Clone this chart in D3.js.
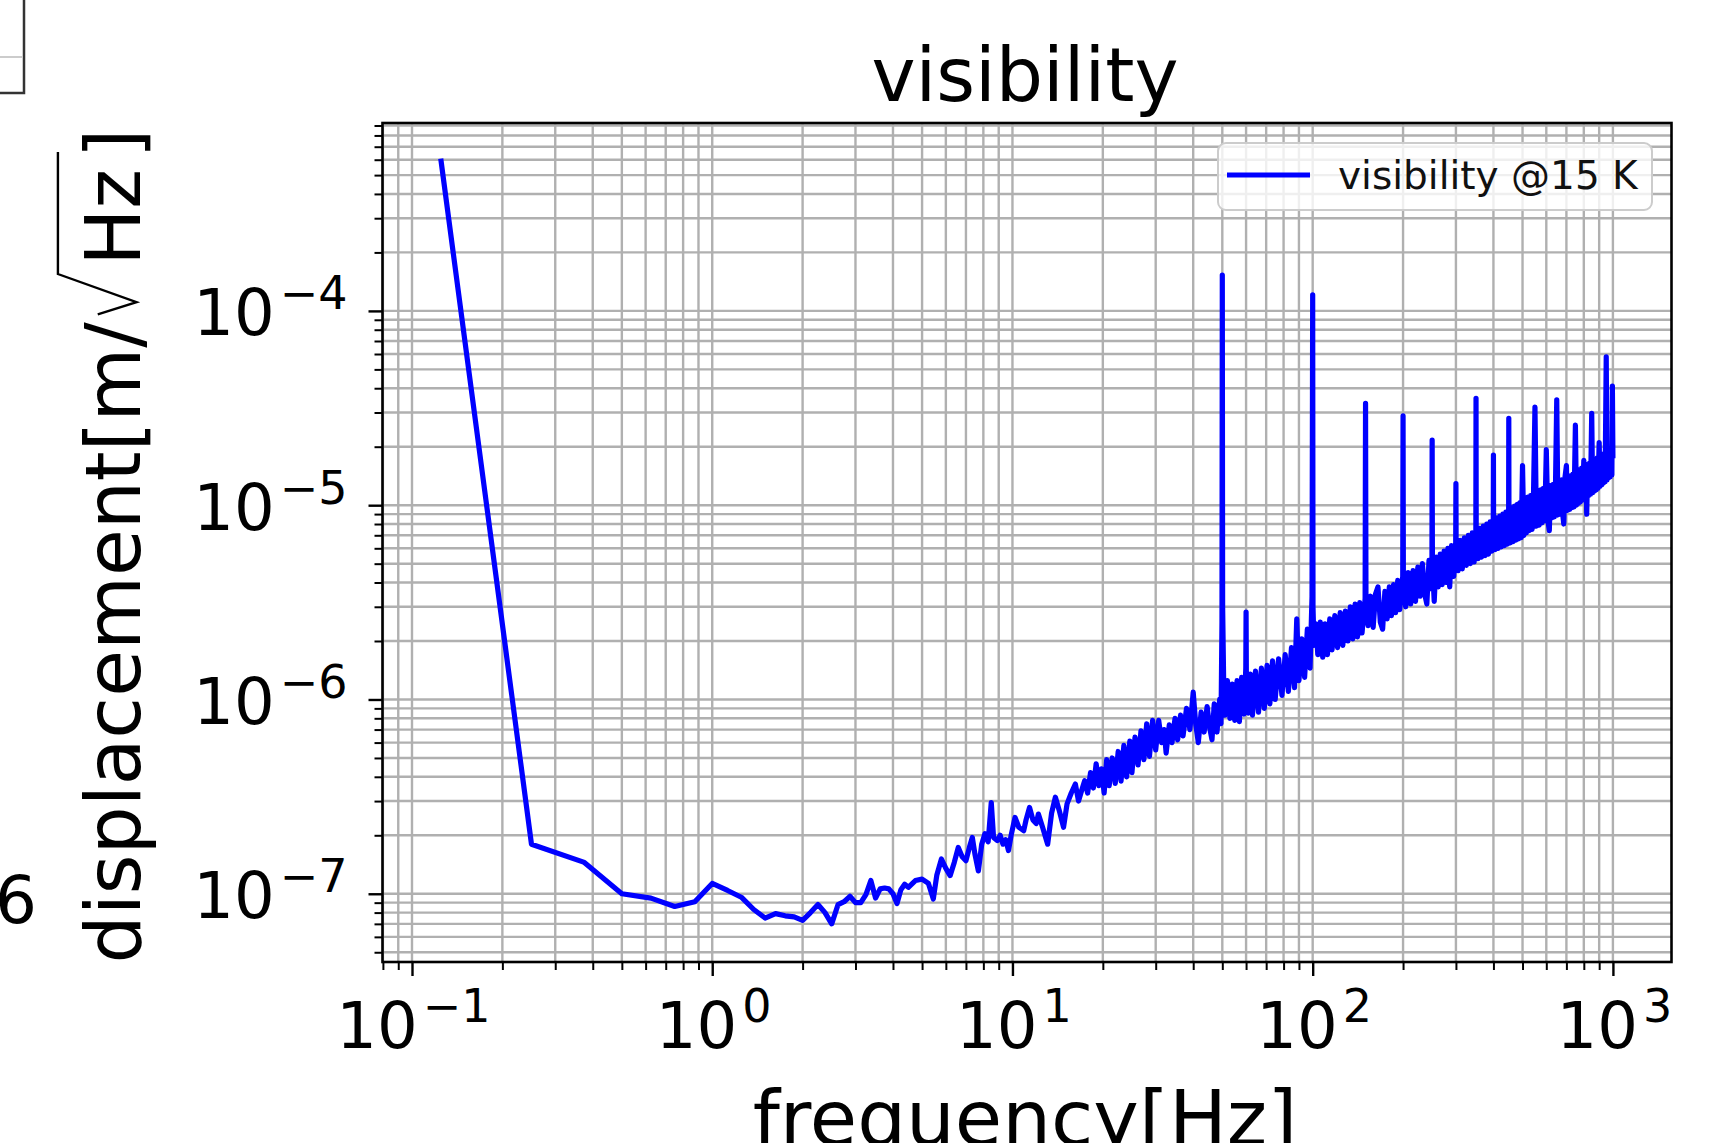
<!DOCTYPE html>
<html>
<head>
<meta charset="utf-8">
<script src="https://cdn.jsdelivr.net/npm/d3@7"></script>
<style>
body { margin: 0; background: #fff; }
text { font-family: "DejaVu Sans", sans-serif; }
</style>
</head>
<body>
<div id="chart"></div>
<script>

// Trace (frequency in Hz, displacement in m/sqrt(Hz))
// low end, 0.125 Hz steps
var lowFreq = [0.125, 0.25, 0.375, 0.5, 0.625, 0.75, 0.875, 1.0, 1.125, 1.25,
	1.375, 1.5, 1.625, 1.75, 1.875, 2.0, 2.125, 2.25, 2.375, 2.5,
	2.625, 2.75, 2.875, 3.0, 3.125, 3.25, 3.375, 3.5, 3.625, 3.75];
var lowDisp = [5.9e-4, 1.80e-7, 1.45e-7, 1.00e-7, 9.5e-8, 8.6e-8, 9.1e-8, 1.13e-7, 1.04e-7, 9.6e-8,
	8.3e-8, 7.5e-8, 7.9e-8, 7.7e-8, 7.6e-8, 7.3e-8, 8.0e-8, 8.8e-8, 8.0e-8, 7.0e-8,
	8.8e-8, 9.1e-8, 9.7e-8, 9.0e-8, 9.0e-8, 9.9e-8, 1.17e-7, 9.5e-8, 1.06e-7, 1.07e-7];

// 4 - 50 Hz
var midFreq = [3.875, 4.0, 4.125, 4.25, 4.375, 4.5, 4.75, 5.0, 5.25, 5.45,
	5.6, 5.8, 6.0, 6.2, 6.4, 6.6, 6.8, 7.0, 7.2, 7.35,
	7.5, 7.7, 7.9, 8.1, 8.3, 8.5, 8.65, 8.9, 9.1, 9.3,
	9.5, 9.7, 9.9, 10.2, 10.5, 10.9, 11.1, 11.4, 11.7, 12.0,
	12.2, 12.6, 13.1, 13.5, 13.9, 14.3, 14.8, 15.2, 15.7, 16.2,
	16.6, 17.0, 17.4, 17.8, 18.2, 18.6, 19.0, 19.4, 19.8, 20.2,
	20.6, 21.0, 21.5, 22.0, 22.5, 23.0, 23.5, 24.0, 24.6, 25.0,
	25.6, 26.2, 26.8, 27.4, 28.0, 28.6, 29.3, 30.0, 30.7, 31.4,
	32.0, 32.5, 33.3, 34.0, 34.8, 35.5, 36.3, 37.0, 38.0, 39.0,
	40.0, 40.8, 41.6, 42.5, 43.5, 44.5, 45.5, 46.2, 47.0, 48.0,
	49.0, 49.5];
var midDisp = [1.06e-7, 1.00e-7, 8.9e-8, 1.05e-7, 1.12e-7, 1.08e-7, 1.17e-7, 1.19e-7, 1.13e-7, 9.4e-8,
	1.25e-7, 1.51e-7, 1.35e-7, 1.24e-7, 1.45e-7, 1.73e-7, 1.55e-7, 1.48e-7, 1.75e-7, 1.95e-7,
	1.60e-7, 1.31e-7, 1.80e-7, 2.04e-7, 1.85e-7, 2.95e-7, 1.95e-7, 1.88e-7, 2.00e-7, 1.80e-7,
	1.90e-7, 1.67e-7, 2.00e-7, 2.47e-7, 2.20e-7, 2.11e-7, 2.40e-7, 2.78e-7, 2.40e-7, 2.30e-7,
	2.57e-7, 2.20e-7, 1.80e-7, 2.60e-7, 3.14e-7, 2.70e-7, 2.20e-7, 2.90e-7, 3.30e-7, 3.67e-7,
	3.00e-7, 3.40e-7, 3.82e-7, 3.30e-7, 4.20e-7, 3.50e-7, 4.66e-7, 3.60e-7, 4.40e-7, 3.30e-7,
	4.90e-7, 3.60e-7, 5.00e-7, 3.70e-7, 5.40e-7, 3.80e-7, 5.80e-7, 4.00e-7, 6.10e-7, 4.20e-7,
	6.40e-7, 4.60e-7, 6.90e-7, 4.90e-7, 7.50e-7, 5.10e-7, 7.80e-7, 5.50e-7, 7.80e-7, 6.00e-7,
	7.00e-7, 5.30e-7, 7.40e-7, 6.00e-7, 8.00e-7, 6.20e-7, 8.30e-7, 6.50e-7, 9.00e-7, 7.00e-7,
	1.09e-6, 7.40e-7, 6.00e-7, 8.60e-7, 6.80e-7, 9.20e-7, 7.00e-7, 6.20e-7, 9.50e-7, 6.80e-7,
	1.00e-6, 7.50e-7];

// 50 - 100 Hz, first mains lines
var humFreq = [49.875, 50.0, 50.125, 50.5, 51, 52, 53, 54, 55, 56,
	57, 58, 59, 59.875, 60, 60.125, 61, 62, 63, 64.5,
	66, 67.5, 69, 70.5, 72, 73.5, 75, 77, 79, 81,
	83, 85, 87, 88.5, 90, 92, 94, 96, 98, 99.5,
	100];
var humDisp = [2.5e-6, 1.53e-4, 3.0e-6, 1.3e-6, 8.3e-7, 1.25e-6, 8.0e-7, 1.2e-6, 7.8e-7, 1.25e-6,
	7.7e-7, 1.3e-6, 8.4e-7, 1.45e-6, 2.82e-6, 1.35e-6, 8.5e-7, 1.35e-6, 8.3e-7, 1.4e-6,
	8.6e-7, 1.45e-6, 9.0e-7, 1.5e-6, 9.5e-7, 1.58e-6, 1.0e-6, 1.62e-6, 1.05e-6, 1.7e-6,
	1.1e-6, 1.85e-6, 1.15e-6, 2.6e-6, 1.25e-6, 2.05e-6, 1.3e-6, 2.3e-6, 1.45e-6, 3.4e-6,
	1.21e-4];

// 100 - 500 Hz, harmonics every 50 Hz
var harmFreq = [100.25, 101, 102.5, 104, 106, 108, 110, 112, 114, 116,
	118.5, 121, 123.5, 126, 128.5, 131, 133.5, 136, 138.5, 141,
	143.5, 146, 149.5, 150, 150.5, 153, 156, 159, 162, 165,
	168, 171, 174, 177, 180, 183, 186, 189, 192, 195,
	199.5, 200, 200.5, 204, 208, 212, 216, 220, 224, 228,
	232, 236, 240, 244, 249.5, 250, 250.5, 254, 258, 262,
	266, 270, 274, 278, 282, 286, 290, 295, 299.5, 300,
	300.5, 305, 310, 315, 320, 325, 330, 335, 340, 345,
	349.5, 350, 350.5, 355, 360, 365, 370, 375, 380, 385,
	390, 395, 399.5, 400, 400.5, 405, 410, 415, 420, 425,
	430, 435, 440, 445, 449.5, 450, 450.5, 455, 460, 465,
	470, 475, 480, 485, 490, 495];
var harmDisp = [3.0e-6, 1.9e-6, 2.45e-6, 1.7e-6, 2.5e-6, 1.65e-6, 2.45e-6, 1.7e-6, 2.6e-6, 1.8e-6,
	2.7e-6, 1.85e-6, 2.8e-6, 1.9e-6, 2.85e-6, 2.0e-6, 3.0e-6, 2.05e-6, 3.1e-6, 2.1e-6,
	3.15e-6, 2.2e-6, 3.3e-6, 3.34e-5, 3.0e-6, 2.4e-6, 3.4e-6, 2.35e-6, 3.5e-6, 3.8e-6,
	2.5e-6, 2.3e-6, 3.6e-6, 2.6e-6, 3.8e-6, 2.7e-6, 3.9e-6, 2.8e-6, 4.1e-6, 2.9e-6,
	4.3e-6, 2.88e-5, 4.0e-6, 3.0e-6, 4.5e-6, 3.1e-6, 4.6e-6, 3.2e-6, 4.8e-6, 3.4e-6,
	5.0e-6, 3.5e-6, 3.1e-6, 5.2e-6, 3.7e-6, 2.16e-5, 5.0e-6, 3.2e-6, 5.4e-6, 3.8e-6,
	5.6e-6, 3.9e-6, 5.8e-6, 4.0e-6, 6.0e-6, 3.8e-6, 6.2e-6, 4.3e-6, 6.4e-6, 1.29e-5,
	6.0e-6, 4.6e-6, 6.6e-6, 4.7e-6, 6.8e-6, 4.9e-6, 7.0e-6, 5.0e-6, 7.2e-6, 5.1e-6,
	7.4e-6, 3.55e-5, 7.0e-6, 5.3e-6, 7.6e-6, 5.4e-6, 7.8e-6, 5.5e-6, 8.0e-6, 5.6e-6,
	8.2e-6, 5.8e-6, 8.4e-6, 1.81e-5, 7.8e-6, 5.9e-6, 8.6e-6, 6.0e-6, 8.8e-6, 6.1e-6,
	9.0e-6, 6.2e-6, 9.2e-6, 6.3e-6, 9.4e-6, 2.8e-5, 9.0e-6, 6.4e-6, 9.7e-6, 6.5e-6,
	9.9e-6, 6.6e-6, 1.01e-5, 6.7e-6, 1.03e-5, 6.8e-6];

// 500 - 1000 Hz
var topFreq = [500, 505, 510, 515, 520, 526, 532, 538, 544, 550,
	556, 562, 568, 574, 580, 586, 593, 600, 607, 614,
	620, 626, 632, 638, 644, 650, 656, 662, 668, 674,
	680, 686, 692, 700, 706, 712, 718, 724, 730, 736,
	742, 750, 756, 762, 768, 774, 780, 786, 792, 800,
	806, 812, 818, 824, 830, 836, 842, 850, 856, 862,
	868, 874, 880, 886, 892, 900, 906, 912, 918, 924,
	930, 936, 942, 950, 956, 962, 968, 974, 980, 986,
	992, 996, 1000];
var topDisp = [1.6e-5, 7.0e-6, 1.07e-5, 7.2e-6, 1.1e-5, 7.4e-6, 1.12e-5, 7.5e-6, 1.15e-5, 3.2e-5,
	7.8e-6, 1.18e-5, 7.9e-6, 1.2e-5, 8.1e-6, 1.22e-5, 8.3e-6, 1.93e-5, 8.4e-6, 7.4e-6,
	1.26e-5, 8.6e-6, 1.28e-5, 8.7e-6, 1.3e-5, 3.48e-5, 8.9e-6, 1.33e-5, 9.0e-6, 1.35e-5,
	9.1e-6, 8.0e-6, 1.38e-5, 1.6e-5, 9.4e-6, 1.4e-5, 9.5e-6, 1.42e-5, 9.7e-6, 1.45e-5,
	9.8e-6, 2.58e-5, 1.0e-5, 1.5e-5, 1.02e-5, 1.52e-5, 1.04e-5, 1.55e-5, 1.06e-5, 1.7e-5,
	1.08e-5, 1.6e-5, 9.0e-6, 1.62e-5, 1.12e-5, 1.65e-5, 1.14e-5, 2.97e-5, 1.16e-5, 1.7e-5,
	1.18e-5, 1.72e-5, 1.2e-5, 1.75e-5, 1.22e-5, 2.1e-5, 1.25e-5, 1.8e-5, 1.27e-5, 1.82e-5,
	1.3e-5, 1.85e-5, 1.32e-5, 5.8e-5, 1.35e-5, 1.9e-5, 1.38e-5, 1.92e-5, 1.4e-5, 1.95e-5,
	1.43e-5, 4.1e-5, 1.8e-5];

// decade labels (10^k)
var xDecades = [-1, 0, 1, 2, 3];
var yDecades = [-7, -6, -5, -4];

var titleText = "visibility";
var xLabelText = "frequency[Hz]";
var legendText = "visibility @15 K";

// Outer Dimensions
var outerWidth = 1730;
var outerHeight = 1143;

// plot box
var plotLeft = 382.5;
var plotRight = 1671.5;
var plotTop = 123;
var plotBottom = 962;

var lineColor = "#0000ff";
var gridColor = "#b0b0b0";
var tickFont = 64;
var supFont = 46;
var supRise = 26;
var supGap = 5;
var labelFont = 76;

var freq = lowFreq.concat(midFreq, humFreq, harmFreq, topFreq);
var disp = lowDisp.concat(midDisp, humDisp, harmDisp, topDisp);
var trace = freq.map(function(f, i) { return {f: f, v: disp[i]}; });

// matplotlib style 5% margin, in log space
function logPad(ext) {
	var a = Math.log10(ext[0]), b = Math.log10(ext[1]);
	var m = (b - a) * 0.05;
	return [Math.pow(10, a - m), Math.pow(10, b + m)];
}

var svg = d3.select("#chart").append("svg")
	.attr("width", outerWidth)
	.attr("height", outerHeight)
	.style("display", "block");

var xScale = d3.scaleLog().domain(logPad(d3.extent(freq))).range([plotLeft, plotRight]);
var yScale = d3.scaleLog().domain(logPad(d3.extent(disp))).range([plotBottom, plotTop]);

function isMajor(t) {
	var l = Math.log10(t);
	return Math.abs(l - Math.round(l)) < 1e-9;
}
var xAll = xScale.ticks();
var yAll = yScale.ticks();
var xMajor = xDecades.map(function(k) { return Math.pow(10, k); });
var yMajor = yDecades.map(function(k) { return Math.pow(10, k); });
var xMinor = xAll.filter(function(t) { return !isMajor(t); });
var yMinor = yAll.filter(function(t) { return !isMajor(t); });

// grid, both major and minor
var grid = svg.append("g");
grid.selectAll(".gx").data(xAll).enter().append("line")
	.attr("x1", function(d) { return xScale(d); })
	.attr("x2", function(d) { return xScale(d); })
	.attr("y1", plotTop).attr("y2", plotBottom)
	.attr("stroke", gridColor).attr("stroke-width", 2.4);
grid.selectAll(".gy").data(yAll).enter().append("line")
	.attr("y1", function(d) { return yScale(d); })
	.attr("y2", function(d) { return yScale(d); })
	.attr("x1", plotLeft).attr("x2", plotRight)
	.attr("stroke", gridColor).attr("stroke-width", 2.4);

// the trace
var line = d3.line()
	.x(function(d) { return xScale(d.f); })
	.y(function(d) { return yScale(d.v); });
svg.append("path")
	.datum(trace)
	.attr("d", line)
	.attr("fill", "none")
	.attr("stroke", lineColor)
	.attr("stroke-width", 5.2)
	.attr("stroke-linejoin", "round")
	.attr("stroke-linecap", "square");

// spines
svg.append("rect")
	.attr("x", plotLeft).attr("y", plotTop)
	.attr("width", plotRight - plotLeft).attr("height", plotBottom - plotTop)
	.attr("fill", "none").attr("stroke", "#000").attr("stroke-width", 2.6);

// axes
function styleAxis(g, w) {
	g.select(".domain").remove();
	g.selectAll(".tick line").attr("stroke", "#000").attr("stroke-width", w);
}
function powerLabel(sel, k, anchor) {
	var t = sel.append("text")
		.attr("text-anchor", anchor)
		.attr("font-size", tickFont)
		.attr("fill", "#000");
	t.append("tspan").text("10");
	t.append("tspan").attr("font-size", supFont).attr("dy", -supRise).attr("dx", supGap)
		.text(k < 0 ? "\u2212" + (-k) : String(k));
	return t;
}

var xAxisMinorG = svg.append("g").attr("transform", "translate(0," + plotBottom + ")")
	.call(d3.axisBottom(xScale).tickValues(xMinor).tickSize(8).tickFormat(""));
styleAxis(xAxisMinorG, 2);
var xAxisG = svg.append("g").attr("transform", "translate(0," + plotBottom + ")")
	.call(d3.axisBottom(xScale).tickValues(xMajor).tickSize(14).tickFormat(""));
styleAxis(xAxisG, 2.4);
xAxisG.selectAll(".tick").each(function(d, i) {
	powerLabel(d3.select(this), xDecades[i], "middle").attr("x", 1).attr("y", 86);
});

var yAxisMinorG = svg.append("g").attr("transform", "translate(" + plotLeft + ",0)")
	.call(d3.axisLeft(yScale).tickValues(yMinor).tickSize(8).tickFormat(""));
styleAxis(yAxisMinorG, 2);
var yAxisG = svg.append("g").attr("transform", "translate(" + plotLeft + ",0)")
	.call(d3.axisLeft(yScale).tickValues(yMajor).tickSize(14).tickFormat(""));
styleAxis(yAxisG, 2.4);
yAxisG.selectAll(".tick").each(function(d, i) {
	powerLabel(d3.select(this), yDecades[i], "end").attr("x", -35).attr("y", 24);
});

// title and x label
svg.append("text")
	.attr("x", 1025).attr("y", 101)
	.attr("text-anchor", "middle")
	.attr("font-size", 74.5)
	.text(titleText);
svg.append("text")
	.attr("x", 1025).attr("y", 1145)
	.attr("text-anchor", "middle")
	.attr("font-size", 77)
	.text(xLabelText);

// y label with a hand drawn radical over Hz
var yLab = svg.append("g").attr("transform", "translate(140,546) rotate(-90)");
var ylA = yLab.append("text").attr("font-size", labelFont).text("displacement[m/");
var ylB = yLab.append("text").attr("font-size", labelFont).text("Hz");
var ylC = yLab.append("text").attr("font-size", labelFont).text("]");
var F = labelFont;
var wA = ylA.node().getComputedTextLength();
var wB = ylB.node().getComputedTextLength();
var wC = ylC.node().getComputedTextLength();
var radW = 0.74 * F;
var total = wA + radW + wB + 0.14 * F + wC;
var x0 = -total / 2;
var rx = x0 + wA + 0.1 * F;
var hzEnd = x0 + wA + radW + wB;
ylA.attr("x", x0);
ylB.attr("x", x0 + wA + radW);
ylC.attr("x", hzEnd + 0.14 * F);
yLab.append("path")
	.attr("d", "M" + rx + "," + (-0.556 * F) +
		"L" + (rx + 0.161 * F) + "," + (-0.046 * F) +
		"L" + (rx + 0.532 * F) + "," + (-1.08 * F) +
		"L" + (hzEnd + 0.22 * F) + "," + (-1.08 * F))
	.attr("fill", "none")
	.attr("stroke", "#000")
	.attr("stroke-width", 2.4);

// legend
var leg = svg.append("g");
leg.append("rect")
	.attr("x", 1218).attr("y", 143)
	.attr("width", 434).attr("height", 67)
	.attr("rx", 8)
	.attr("fill", "#fff").attr("fill-opacity", 0.8)
	.attr("stroke", "#cccccc").attr("stroke-width", 2);
leg.append("line")
	.attr("x1", 1227).attr("x2", 1310)
	.attr("y1", 175).attr("y2", 175)
	.attr("stroke", lineColor).attr("stroke-width", 5.2);
leg.append("text")
	.attr("x", 1338).attr("y", 189)
	.attr("font-size", 39)
	.attr("fill", "#111")
	.text(legendText);

// bits of the neighbouring panel, cut off at the left edge
svg.append("path")
	.attr("d", "M24,0 L24,93 L0,93")
	.attr("fill", "none").attr("stroke", "#333").attr("stroke-width", 2.5);
svg.append("line")
	.attr("x1", 0).attr("x2", 22).attr("y1", 57).attr("y2", 57)
	.attr("stroke", "#cccccc").attr("stroke-width", 2);
svg.append("text")
	.attr("x", -5).attr("y", 923)
	.attr("font-size", 66)
	.text("6");

</script>
</body>
</html>
